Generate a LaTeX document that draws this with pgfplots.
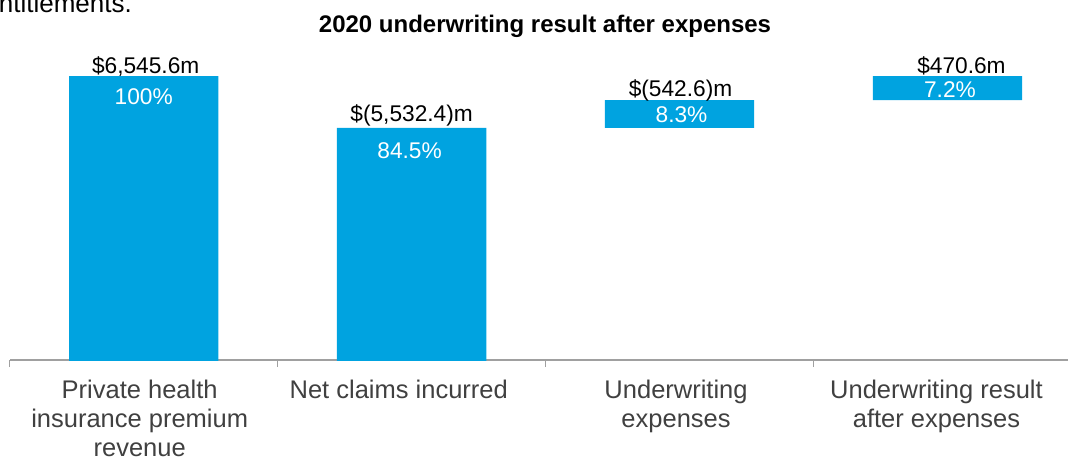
\documentclass[border=0pt]{standalone}
\usepackage{fontspec}
\setmainfont{Liberation Sans}
\usepackage{pgfplots}
\pgfplotsset{compat=1.18}
\definecolor{barblue}{RGB}{0,163,224}
\definecolor{axisgray}{RGB}{160,160,160}
\definecolor{ticktext}{RGB}{64,64,64}
\tikzset{vlab/.style={anchor=base, inner sep=0pt, font=\fontsize{22.7}{26}\selectfont}}
\begin{document}
\begin{tikzpicture}
\useasboundingbox (0,0) rectangle (1069pt,456pt);
\clip (0,0) rectangle (1069pt,456pt);
\node[anchor=base east, inner sep=0pt, font=\fontsize{26}{29}\selectfont] at (132pt,443.3pt) {entitlements.};
\node[anchor=base, inner sep=0pt, font=\fontsize{24}{28}\selectfont\bfseries] at (545pt,423.7pt) {2020 underwriting result after expenses};
\begin{axis}[
  at={(9.75pt,96pt)}, anchor=south west,
  scale only axis, width=1058.25pt, height=360pt,
  xmin=-0.5, xmax=3.45, ymin=1000, ymax=8030,
  ybar stacked, bar width=149.4pt,
  axis x line*=bottom, axis y line=none,
  x axis line style={draw=axisgray, line width=1.3pt},
  xtick={-0.015,0.952,1.987,2.959},
  xticklabels={{Private health\\insurance premium\\revenue},{Net claims incurred},{Underwriting\\expenses},{Underwriting result\\after expenses}},
  minor xtick={-0.5,0.5,1.5,2.5},
  major tick length=0pt, minor tick length=7pt, tick align=outside,
  major x tick style={draw=none},
  minor x tick style={draw=axisgray, line width=1.3pt},
  xticklabel style={font=\fontsize{25.5}{29}\selectfont, text=ticktext, align=center, anchor=north, inner sep=0pt, yshift=-20pt},
]
\addplot[draw=none, fill=none] coordinates {(0,0) (1,0) (2,5532.4) (3,6075.0)};
\addplot[fill=barblue, draw=none] coordinates {(0,6545.6) (1,5532.4) (2,542.6) (3,470.6)};
\coordinate (t0) at (axis cs:0,6545.6);
\coordinate (t1) at (axis cs:1,5532.4);
\coordinate (t2) at (axis cs:2,6075.0);
\coordinate (t3) at (axis cs:3,6545.6);
\end{axis}
\node[vlab, yshift=2.7pt, xshift=2pt] at (t0) {\$6,545.6m};
\node[vlab, yshift=-28.3pt, text=white] at (t0) {100\%};
\node[vlab, yshift=6.3pt] at (t1) {\$(5,532.4)m};
\node[vlab, yshift=-31pt, xshift=-2pt, text=white] at (t1) {84.5\%};
\node[vlab, yshift=3.6pt, xshift=1pt] at (t2) {\$(542.6)m};
\node[vlab, yshift=-22.4pt, xshift=2pt, text=white] at (t2) {8.3\%};
\node[vlab, yshift=3pt, xshift=14pt] at (t3) {\$470.6m};
\node[vlab, yshift=-21pt, xshift=2.5pt, text=white] at (t3) {7.2\%};
\end{tikzpicture}
\end{document}
